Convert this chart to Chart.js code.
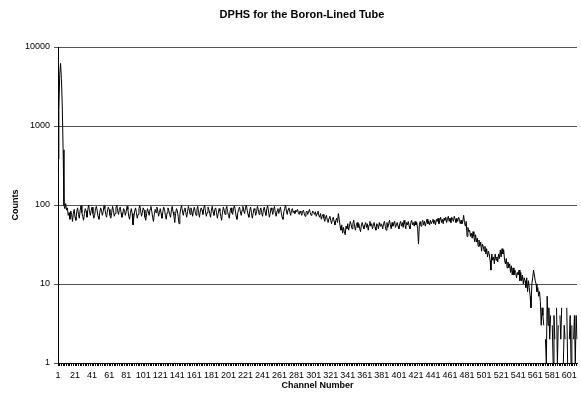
<!DOCTYPE html>
<html>
<head>
<meta charset="utf-8">
<script src="https://cdn.jsdelivr.net/npm/chart.js@4/dist/chart.umd.min.js"></script>
<style>
  html, body { margin: 0; padding: 0; background: #fff; }
  #wrap { width: 581px; height: 396px; }
</style>
</head>
<body>
<div id="wrap"><canvas id="dphs"></canvas></div>
<script>
// Pulse height spectrum, counts per channel (channels 1..610)
const channelCounts = [
    380, 1600, 4500, 6200, 4000, 1800, 500, 100, 90, 104, 86, 92, 74, 80, 66, 84, 76, 62, 78, 88,   // 1-20
    70, 64, 82, 92, 76, 68, 86, 98, 80, 72, 64, 78, 90, 84, 70, 88, 100, 82, 74, 86,
    94, 78, 68, 74, 90, 96, 84, 72, 66, 80, 92, 86, 74, 82, 98, 90, 76, 70, 84, 94,
    88, 74, 68, 80, 96, 86, 72, 78, 92, 100, 84, 76, 88, 94, 80, 70, 76, 90, 86, 74,
    82, 96, 88, 72, 66, 80, 90, 78, 56, 70, 84, 92, 80, 68, 76, 90, 98, 84, 72, 80,
    92, 86, 70, 64, 78, 90, 82, 74, 88, 96, 84, 70, 62, 76, 88, 80, 94, 86, 72, 80,  // 101-120
    90, 78, 68, 82, 94, 88, 74, 66, 80, 92, 86, 76, 70, 84, 96, 82, 74, 60, 78, 90,
    84, 72, 58, 76, 90, 98, 84, 74, 86, 92, 80, 70, 82, 96, 88, 76, 92, 84, 72, 86,
    94, 82, 74, 88, 96, 80, 70, 84, 92, 86, 76, 90, 100, 84, 72, 80, 94, 88, 78, 70,
    86, 96, 82, 74, 88, 92, 80, 68, 78, 90, 84, 72, 64, 80, 94, 86, 76, 88, 96, 82,
    74, 68, 84, 92, 80, 76, 90, 98, 86, 72, 66, 80, 88, 94, 82, 74, 86, 96, 84, 78,  // 201-220
    92, 100, 86, 76, 70, 84, 94, 80, 68, 78, 90, 86, 74, 82, 96, 88, 76, 84, 92, 80,
    72, 86, 94, 82, 74, 90, 98, 84, 70, 78, 92, 86, 76, 88, 96, 80, 72, 84, 90, 78,
    86, 94, 80, 70, 66, 82, 90, 100, 84, 76, 88, 92, 82, 74, 86, 90, 80, 84, 78, 86,
    82, 88, 80, 76, 84, 80, 74, 82, 86, 78, 72, 80, 84, 76, 82, 88, 80, 74, 78, 84,
    80, 76, 82, 72, 78, 84, 74, 70, 78, 66, 72, 76, 68, 62, 70, 74, 64, 60, 68, 72,  // 301-320
    64, 58, 66, 70, 62, 56, 64, 68, 60, 78, 66, 54, 48, 56, 44, 52, 46, 42, 54, 50,
    58, 48, 54, 62, 56, 50, 58, 64, 54, 48, 56, 60, 52, 58, 50, 46, 56, 60, 54, 50,
    56, 60, 52, 58, 48, 56, 62, 54, 58, 50, 56, 60, 52, 48, 58, 56, 50, 60, 54, 58,
    56, 50, 58, 62, 54, 48, 60, 52, 58, 64, 56, 50, 60, 54, 58, 62, 52, 56, 60, 54,
    50, 58, 62, 54, 60, 52, 64, 58, 50, 60, 56, 62, 54, 50, 60, 64, 56, 60, 54, 62,  // 401-420
    56, 60, 50, 32, 56, 62, 54, 60, 64, 56, 62, 54, 60, 66, 58, 62, 56, 64, 58, 62,
    66, 58, 64, 56, 66, 62, 68, 58, 64, 70, 60, 66, 58, 68, 64, 70, 60, 66, 72, 62,
    68, 60, 70, 66, 62, 72, 66, 60, 68, 62, 70, 66, 58, 64, 58, 62, 74, 60, 54, 62,
    40, 52, 46, 48, 40, 44, 38, 46, 40, 34, 42, 34, 38, 30, 36, 30, 34, 26, 32, 30,
    26, 30, 24, 28, 22, 26, 24, 20, 15, 24, 20, 22, 18, 24, 20, 22, 19, 24, 21, 27,  // 501-520
    22, 28, 24, 27, 20, 18, 21, 16, 19, 16, 18, 14, 17, 13, 16, 13, 15, 14, 12, 14,
    13, 15, 11, 14, 11, 13, 10, 12, 11, 9, 12, 8, 11, 9, 7, 5, 10, 12, 15, 13,
    11, 10, 8, 9, 7, 8, 6, 3, 5, 4, 3, 0, 2, 1, 7, 3, 5, 2, 4, 0,
    3, 1, 4, 2, 0, 5, 1, 3, 0, 4, 2, 5, 0, 1, 3, 2, 0, 5, 1, 0,
    2, 4, 1, 3, 0, 2, 4, 1, 4, 2                                                     // 601-610
];

const channels = channelCounts.map((c, i) => i + 1);
const labelEvery = 20;
const countTicks = [1, 10, 100, 1000, 10000];

const chartTitle = 'DPHS for the Boron-Lined Tube';
const fontFam = '"Liberation Sans", Arial, sans-serif';

// title is centred a little right of the canvas middle, so draw it by hand
const titlePlugin = {
    id: 'titleText',
    afterDraw(chart) {
        const ctx = chart.ctx;
        ctx.save();
        ctx.font = 'bold 11px ' + fontFam;
        ctx.fillStyle = '#000';
        ctx.textAlign = 'center';
        ctx.textBaseline = 'middle';
        ctx.fillText(chartTitle, 302, 15);
        ctx.restore();
    }
};

var ctx = document.getElementById('dphs');
var spectrum = new Chart(ctx, {
    type: 'line',
    data: {
        labels: channels,
        datasets: [{
            data: channelCounts,
            borderColor: '#000',
            borderWidth: 1,
            pointRadius: 0,
            tension: 0,
            fill: false
        }]
    },
    options: {
        responsive: true,
        maintainAspectRatio: false,
        animation: false,
        layout: {
            padding: { top: 47, right: 1, bottom: 0, left: 0 }
        },
        plugins: {
            legend: { display: false },
            title: { display: false },
            tooltip: { enabled: false }
        },
        scales: {
            x: {
                type: 'category',
                offset: false,
                grid: {
                    drawOnChartArea: false,
                    drawTicks: true,
                    tickLength: 3,
                    // every other channel tick, like a dashed band under the axis
                    color: (c) => (c.index % 2 === 0 ? '#000' : 'rgba(0,0,0,0)')
                },
                border: { color: '#000', width: 1 },
                ticks: {
                    autoSkip: false,
                    maxRotation: 0,
                    minRotation: 0,
                    padding: 4,
                    color: '#000',
                    font: { family: fontFam, size: 9 },
                    callback: function (val, i) {
                        return (i % labelEvery === 0) ? String(channels[i]) : '';
                    }
                },
                title: {
                    display: true,
                    text: 'Channel Number',
                    color: '#000',
                    font: { family: fontFam, size: 9, weight: 'bold' },
                    padding: { top: 0, bottom: 5 }
                },
                afterFit: function (scale) { scale.height = 33; }
            },
            y: {
                type: 'logarithmic',
                min: 1,
                max: 10000,
                grid: {
                    color: '#555',
                    tickLength: 4,
                    drawTicks: true
                },
                border: { color: '#000', width: 1 },
                ticks: {
                    padding: 4,
                    color: '#000',
                    font: { family: fontFam, size: 9 },
                    callback: function (v) { return String(v); }
                },
                afterBuildTicks: function (scale) {
                    scale.ticks = countTicks.map(v => ({ value: v }));
                },
                title: {
                    display: true,
                    text: 'Counts',
                    color: '#000',
                    font: { family: fontFam, size: 9, weight: 'bold' },
                    padding: { top: 10, bottom: 0 }
                },
                afterFit: function (scale) { scale.width = 58; }
            }
        }
    },
    plugins: [titlePlugin]
});
</script>
</body>
</html>
